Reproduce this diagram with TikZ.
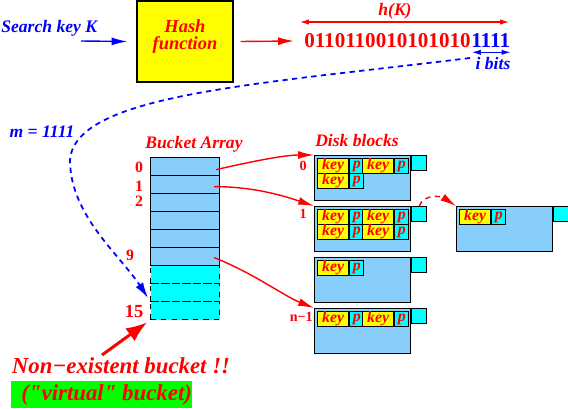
\documentclass[tikz,border=0pt]{standalone}
\usepackage{fontspec}
\setmainfont{Liberation Serif}
\usepackage{tikz}
\usetikzlibrary{arrows.meta,positioning,calc}
\definecolor{skyb}{RGB}{135,206,250}
\definecolor{cyn}{RGB}{0,255,255}
\definecolor{ylw}{RGB}{255,255,0}
\definecolor{grn}{RGB}{0,255,0}
\definecolor{rd}{RGB}{255,0,0}
\definecolor{bl}{RGB}{0,0,255}
\tikzset{> = {Latex[length=9pt,width=4.5pt]}}
\tikzset{
  lbl/.style={inner sep=0pt, font=\bfseries\itshape\fontsize{10}{12}\selectfont},
  num/.style={inner sep=0pt, text=rd, font=\bfseries\fontsize{9}{11}\selectfont},
  bits/.style={inner sep=0pt, font=\bfseries\fontsize{12}{14}\selectfont},
  box/.style={draw, line width=0.7pt, inner sep=0pt},
  blk/.style={box, fill=skyb, minimum width=1.92cm, minimum height=0.9cm, anchor=north west},
  tab/.style={box, fill=cyn, minimum size=0.3cm, anchor=north west},
  cell/.style={box, fill=skyb, minimum width=1.38cm, minimum height=0.36cm, anchor=north west},
  vcell/.style={cell, fill=cyn, dashed},
  keyc/.style={box, fill=ylw, text=rd, minimum width=0.62cm, minimum height=0.3cm,
    anchor=north west, font=\bfseries\itshape\fontsize{9}{10}\selectfont},
  pc/.style={keyc, fill=cyn, minimum width=0.28cm},
  link/.style={rd, line width=0.8pt, ->},
  big/.style={font=\bfseries\itshape\fontsize{13}{15}\selectfont}
}
% one key/pointer pair of a disk block: block, column, row
\newcommand{\diskentry}[3]{%
  \node[keyc] (#1k#2#3) at ($(#1.north west)+({3+45*#2},{3+15*#3})$) {key};
  \node[pc] (#1p#2#3) at (#1k#2#3.north east) {p};}

\begin{document}
\begin{tikzpicture}[x=0.02cm, y=-0.02cm]
\useasboundingbox (0,0) rectangle (568,409);

% key -> hash function -> bits
\node[lbl, text=bl, anchor=west] (skey) at (1,28) {Search key K};
\node[box, fill=ylw, minimum width=1.92cm, minimum height=1.62cm] (hash) at (185,41.5) {};
\node[inner sep=0pt, text=rd, align=center, yshift=0.1cm,
  font=\bfseries\itshape\fontsize{10.5}{9.5}\selectfont] (hasht) at (hash) {Hash\\function};
\coordinate (kin) at (81,41);
\draw[bl, line width=0.8pt, ->] (kin) -- ($(hash.west)+(-9,0)$);

\node[bits, text=bl, anchor=west] (blo) at (471,41) {1111};
\node[bits, text=rd, left=0pt of blo] (bhi) {0110110010101010};
\draw[link] ($(hash.east)+(7,0)$) -- ($(bhi.west)+(-10,0)$);

\node[lbl, text=rd] (hk) at (395,11) {h(K)};
\coordinate (hl) at (300,22);
\coordinate (hr) at (509,22);
\draw[rd, line width=0.6pt, {Latex[length=5pt,width=3pt]}-{Latex[length=5pt,width=3pt]}] (hl) -- (hr);
\draw[bl, line width=0.6pt, {Latex[length=5pt,width=3pt]}-{Latex[length=5pt,width=3pt]}]
  ($(blo.south west)+(1,4)$) -- ($(blo.south east)+(0,4)$);
\node[lbl, text=bl] (ib) at (493,64) {i bits};

% bucket array
\node[lbl, text=bl] (m) at (42,132) {m = 1111};
\node[lbl, text=rd] (barr) at (194,144) {Bucket Array};
\foreach \i in {6,7,8} \node[vcell] (r\i) at (150,{157+18*\i}) {};
\foreach \i in {0,...,5} \node[cell] (r\i) at (150,{157+18*\i}) {};
\node[num] (n0) at (139,167) {0};
\node[num] (n1) at (139,186) {1};
\node[num] (n2) at (139,201) {2};
\node[num] (n9) at (130,255) {9};
\node[num, font=\bfseries\fontsize{10.5}{12}\selectfont] (n15) at (134,311) {15};

\coordinate (mstart) at (470,58);
\coordinate (mbend) at (70,160);
\draw[bl, line width=1pt, dash pattern=on 3pt off 2.5pt, shorten >=2pt,
  -{Latex[length=9pt,width=5pt]}]
  (mstart) .. controls (250,85) and (75,95) .. (mbend)
  .. controls (70,215) and (120,255) .. (r8.north west);

% disk blocks
\node[lbl, text=rd] (dlbl) at (357,141) {Disk blocks};
\node[blk] (b0) at (314,155) {};
\node[blk] (b1) at (314,206) {};
\node[blk] (b2) at (314,257) {};
\node[blk] (bn) at (314,308) {};
\node[blk] (ov) at (456,206) {};
\foreach \b in {b0,b1,b2,bn,ov} \node[tab] (t\b) at (\b.north east) {};
\diskentry{b0}{0}{0} \diskentry{b0}{1}{0} \diskentry{b0}{0}{1}
\diskentry{b1}{0}{0} \diskentry{b1}{1}{0} \diskentry{b1}{0}{1} \diskentry{b1}{1}{1}
\diskentry{b2}{0}{0}
\diskentry{bn}{0}{0} \diskentry{bn}{1}{0}
\diskentry{ov}{0}{0}
\node[num, font=\bfseries\fontsize{8}{10}\selectfont, anchor=east] (m0) at (307,166) {0};
\node[num, font=\bfseries\fontsize{8}{10}\selectfont, anchor=east] (m1) at (307,214) {1};
\node[num, font=\bfseries\fontsize{8}{10}\selectfont, anchor=east] (mn) at (313,317) {n−1};

\draw[link] ($(r0.east)+(-4,3)$) .. controls +(35,-8) and +(-30,0) .. (b0.north west);
\draw[link] ($(r1.east)+(-6,2)$) .. controls +(40,0) and +(-30,-10) .. (b1.north west);
\draw[link] ($(r5.east)+(-6,1)$) .. controls +(40,16) and +(-30,-12) .. (bn.north west);
\draw[link, dash pattern=on 3pt off 2.5pt] (tb1.north) .. controls +(4,-12) and +(-15,-10) .. (ov.north west);

% the virtual bucket
\node[lbl, big, text=rd] (nonex) at (121,366) {Non−existent bucket !!};
\coordinate (ne) at (102,355);
\draw[rd, line width=1.7pt, shorten >=2pt, -{Latex[length=12pt,width=9pt]}] (ne) -- (r8.south west);
\node[big, fill=grn, text=rd, anchor=north west, inner sep=0pt, minimum height=0.54cm]
  (virt) at (11,381) {\hspace{0.2cm}(\textquotedbl virtual\textquotedbl{} bucket)};
\end{tikzpicture}
\end{document}
